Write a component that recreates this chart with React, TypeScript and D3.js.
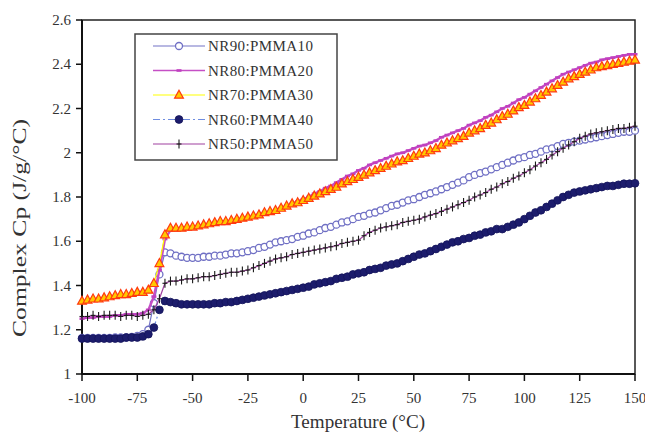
import React from "react";
import * as d3 from "d3";

const temperatures: number[] = Array.from({ length: 101 }, (_, i) => -100 + 2.5 * i);

const nr90: number[] = [
  1.163, 1.163, 1.163, 1.163, 1.163, 1.163, 1.165, 1.165, 1.165, 1.168,
  1.172, 1.18, 1.2, 1.32, 1.45, 1.55, 1.545, 1.535, 1.53, 1.525,
  1.525, 1.525, 1.53, 1.53, 1.535, 1.535, 1.54, 1.545, 1.545, 1.55,
  1.555, 1.56, 1.57, 1.575, 1.585, 1.595, 1.6, 1.605, 1.61, 1.62,
  1.625, 1.635, 1.64, 1.65, 1.66, 1.665, 1.675, 1.685, 1.69, 1.7,
  1.71, 1.715, 1.725, 1.73, 1.74, 1.75, 1.76, 1.765, 1.775, 1.785,
  1.79, 1.8, 1.81, 1.817, 1.825, 1.835, 1.845, 1.855, 1.865, 1.875,
  1.89, 1.9, 1.908, 1.915, 1.925, 1.935, 1.945, 1.955, 1.965, 1.975,
  1.98, 1.99, 1.995, 2.005, 2.015, 2.02, 2.03, 2.04, 2.045, 2.05,
  2.055, 2.06, 2.065, 2.07, 2.075, 2.08, 2.085, 2.09, 2.095, 2.095,
  2.1,
];

const nr80: number[] = [
  1.25, 1.255, 1.255, 1.26, 1.26, 1.26, 1.265, 1.265, 1.27, 1.27,
  1.27, 1.275, 1.29, 1.35, 1.47, 1.61, 1.65, 1.65, 1.655, 1.655,
  1.66, 1.665, 1.67, 1.675, 1.68, 1.685, 1.685, 1.69, 1.695, 1.7,
  1.705, 1.71, 1.72, 1.725, 1.73, 1.74, 1.75, 1.76, 1.77, 1.78,
  1.79, 1.8, 1.815, 1.825, 1.84, 1.85, 1.865, 1.88, 1.895, 1.905,
  1.92, 1.93, 1.945, 1.955, 1.965, 1.975, 1.985, 1.995, 2.0, 2.01,
  2.02, 2.03, 2.035, 2.045, 2.055, 2.07, 2.08, 2.09, 2.1, 2.11,
  2.125, 2.135, 2.145, 2.16, 2.17, 2.185, 2.2, 2.21, 2.225, 2.24,
  2.25, 2.265, 2.28, 2.295, 2.31, 2.325, 2.34, 2.355, 2.365, 2.375,
  2.385, 2.395, 2.405, 2.41, 2.42, 2.425, 2.43, 2.435, 2.44, 2.445,
  2.445,
];

const nr70: number[] = [
  1.33, 1.335, 1.34, 1.34, 1.345, 1.35, 1.355, 1.36, 1.36, 1.365,
  1.37, 1.37, 1.38, 1.41, 1.5, 1.63, 1.66, 1.66, 1.66, 1.665,
  1.665, 1.67, 1.675, 1.68, 1.685, 1.69, 1.69, 1.695, 1.7, 1.705,
  1.71, 1.715, 1.72, 1.73, 1.735, 1.74, 1.75, 1.76, 1.77, 1.775,
  1.785, 1.795, 1.805, 1.815, 1.825, 1.835, 1.845, 1.86, 1.87, 1.88,
  1.89, 1.9, 1.91, 1.92, 1.93, 1.94, 1.95, 1.96, 1.965, 1.975,
  1.985, 1.995, 2.0, 2.01, 2.02, 2.035, 2.045, 2.055, 2.065, 2.075,
  2.09, 2.1, 2.11, 2.125, 2.135, 2.15, 2.165, 2.175, 2.19, 2.205,
  2.215, 2.23, 2.245, 2.26, 2.275, 2.29, 2.305, 2.32, 2.335, 2.345,
  2.355, 2.365, 2.375, 2.385, 2.39, 2.395, 2.4, 2.405, 2.41, 2.415,
  2.42,
];

const nr60: number[] = [
  1.16, 1.16, 1.16, 1.16, 1.16, 1.16, 1.16, 1.16, 1.165, 1.165,
  1.165, 1.17, 1.18, 1.21, 1.29, 1.33, 1.325, 1.32, 1.315, 1.315,
  1.315, 1.315, 1.315, 1.315, 1.32, 1.32, 1.325, 1.325, 1.33, 1.335,
  1.34, 1.345, 1.35, 1.355, 1.36, 1.365, 1.37, 1.375, 1.38, 1.385,
  1.39, 1.395, 1.405, 1.41, 1.415, 1.42, 1.43, 1.435, 1.44, 1.45,
  1.455, 1.46, 1.47, 1.475, 1.48, 1.49, 1.495, 1.5, 1.51, 1.52,
  1.53, 1.54, 1.545, 1.555, 1.565, 1.575, 1.585, 1.595, 1.6, 1.61,
  1.615, 1.625, 1.63, 1.64, 1.645, 1.655, 1.655, 1.665, 1.675, 1.685,
  1.7, 1.715, 1.73, 1.74, 1.755, 1.77, 1.785, 1.8, 1.81, 1.82,
  1.825, 1.83, 1.835, 1.84, 1.845, 1.85, 1.85, 1.855, 1.86, 1.86,
  1.862,
];

const nr50: number[] = [
  1.26, 1.26, 1.265, 1.26, 1.265, 1.265, 1.265, 1.26, 1.265, 1.265,
  1.26, 1.265, 1.27, 1.29, 1.34, 1.41, 1.42, 1.42, 1.425, 1.43,
  1.43, 1.435, 1.44, 1.44, 1.445, 1.45, 1.455, 1.46, 1.46, 1.465,
  1.47, 1.48, 1.49, 1.5, 1.51, 1.52, 1.525, 1.53, 1.54, 1.545,
  1.55, 1.555, 1.56, 1.565, 1.57, 1.575, 1.58, 1.59, 1.595, 1.6,
  1.605, 1.625, 1.64, 1.65, 1.66, 1.665, 1.67, 1.675, 1.685, 1.69,
  1.695, 1.7, 1.71, 1.718, 1.725, 1.735, 1.745, 1.755, 1.765, 1.775,
  1.785, 1.8, 1.809, 1.82, 1.835, 1.845, 1.86, 1.87, 1.885, 1.895,
  1.91, 1.923, 1.94, 1.955, 1.97, 1.99, 2.005, 2.02, 2.035, 2.05,
  2.065, 2.075, 2.085, 2.09, 2.095, 2.1, 2.105, 2.11, 2.11, 2.115,
  2.12,
];

const seriesNames: string[] = [
  "NR90:PMMA10",
  "NR80:PMMA20",
  "NR70:PMMA30",
  "NR60:PMMA40",
  "NR50:PMMA50",
];

const xTicks: number[] = [-100, -75, -50, -25, 0, 25, 50, 75, 100, 125, 150];
const yTicks: number[] = [1, 1.2, 1.4, 1.6, 1.8, 2, 2.2, 2.4, 2.6];

type Marker = "circleOpen" | "dash" | "triangle" | "circleFilled" | "plus";

interface Style {
  line: string;
  dash?: string;
  lineWidth: number;
  marker: Marker;
  fill: string;
  stroke: string;
}

const styles: Style[] = [
  { line: "#7373c6", lineWidth: 1.2, marker: "circleOpen", fill: "#ffffff", stroke: "#6f6fc4" },
  { line: "#c54fc5", lineWidth: 2.4, marker: "dash", fill: "#c040c0", stroke: "#c040c0" },
  { line: "#ffff00", lineWidth: 1.2, marker: "triangle", fill: "#ffc800", stroke: "#ff3a10" },
  { line: "#6f8de0", dash: "7,3,2,3", lineWidth: 1.2, marker: "circleFilled", fill: "#1c1c6c", stroke: "#14145a" },
  { line: "#a040a0", lineWidth: 1.2, marker: "plus", fill: "none", stroke: "#1a1a1a" },
];

const FONT = "'Liberation Serif', 'Times New Roman', serif";

function MarkerShape({ kind, x, y, s }: { kind: Marker; x: number; y: number; s: Style }) {
  switch (kind) {
    case "circleOpen":
      return <circle cx={x} cy={y} r={3.5} fill={s.fill} stroke={s.stroke} strokeWidth={1.3} />;
    case "circleFilled":
      return <circle cx={x} cy={y} r={3.9} fill={s.fill} stroke={s.stroke} strokeWidth={0.8} />;
    case "triangle": {
      const h = 8;
      const p = `${x},${y - h * 0.6} ${x + h * 0.55},${y + h * 0.4} ${x - h * 0.55},${y + h * 0.4}`;
      return <polygon points={p} fill={s.fill} stroke={s.stroke} strokeWidth={1.2} />;
    }
    case "dash":
      return <rect x={x - 2.5} y={y - 1.3} width={5} height={2.6} fill={s.fill} />;
    case "plus":
      return (
        <g stroke={s.stroke} strokeWidth={1.1}>
          <line x1={x} y1={y - 4.5} x2={x} y2={y + 4.5} />
          <line x1={x - 2.5} y1={y} x2={x + 2.5} y2={y} />
        </g>
      );
  }
  return null;
}

export default function App() {
  const W = 645;
  const H = 433;
  const x = d3.scaleLinear().domain([-100, 150]).range([82, 635]);
  const y = d3.scaleLinear().domain([1, 2.6]).range([374, 20]);
  const allSeries = [nr90, nr80, nr70, nr60, nr50];

  const lineGen = d3
    .line<number>()
    .x((_, i) => x(temperatures[i]))
    .y((d) => y(d));

  const legendX = 135;
  const legendY = 34;
  const legendRows = seriesNames.map((_, i) => 46 + i * 24.5);

  return (
    <svg
      width={W}
      height={H}
      style={{ position: "absolute", left: 0, top: 0, background: "#fff" }}
      fontFamily={FONT}
    >
      <rect x={0} y={0} width={W} height={H} fill="#ffffff" />
      {/* plot frame */}
      <rect x={82} y={20} width={553} height={354} fill="none" stroke="#222" strokeWidth={1.5} />
      <line x1={82} y1={20} x2={82} y2={374} stroke="#111" strokeWidth={2} />
      <line x1={82} y1={374} x2={635} y2={374} stroke="#111" strokeWidth={2} />

      {/* y ticks */}
      {yTicks.map((t) => (
        <g key={"y" + t}>
          <line x1={76} x2={82} y1={y(t)} y2={y(t)} stroke="#111" strokeWidth={1.5} />
          <text x={71} y={y(t) + 5} textAnchor="end" fontSize={15} fill="#333">
            {d3.format("")(t)}
          </text>
        </g>
      ))}
      {/* x ticks */}
      {xTicks.map((t) => (
        <g key={"x" + t}>
          <line x1={x(t)} x2={x(t)} y1={374} y2={381} stroke="#111" strokeWidth={1.5} />
          <text x={x(t)} y={403} textAnchor="middle" fontSize={15} fill="#333">
            {t}
          </text>
        </g>
      ))}

      {/* axis titles */}
      <text
        x={358}
        y={428}
        textAnchor="middle"
        fontSize={18}
        fill="#333"
        textLength={134}
        lengthAdjust="spacingAndGlyphs"
      >
        Temperature (°C)
      </text>
      <text
        transform={`translate(26,228) rotate(-90)`}
        textAnchor="middle"
        fontSize={18}
        fill="#333"
        textLength={218}
        lengthAdjust="spacingAndGlyphs"
      >
        Complex Cp (J/g/°C)
      </text>

      {/* series */}
      {allSeries.map((vals, si) => {
        const s = styles[si];
        return (
          <g key={"s" + si}>
            <path
              d={lineGen(vals) || ""}
              fill="none"
              stroke={s.line}
              strokeWidth={s.lineWidth}
              strokeDasharray={s.dash}
            />
            {vals.map((v, i) => (
              <MarkerShape key={i} kind={s.marker} x={x(temperatures[i])} y={y(v)} s={s} />
            ))}
          </g>
        );
      })}

      {/* legend */}
      <rect
        x={legendX}
        y={legendY}
        width={202}
        height={126}
        fill="#ffffff"
        stroke="#444"
        strokeWidth={1.5}
      />
      {seriesNames.map((name, i) => {
        const s = styles[i];
        const ry = legendRows[i];
        return (
          <g key={name}>
            <line
              x1={153}
              x2={205}
              y1={ry}
              y2={ry}
              stroke={s.line}
              strokeWidth={i === 1 ? 1.5 : 1.2}
              strokeDasharray={s.dash}
            />
            <MarkerShape kind={s.marker} x={179} y={ry} s={s} />
            <text
              x={208}
              y={ry + 5}
              fontSize={15}
              fill="#333"
              textLength={105}
              lengthAdjust="spacing"
            >
              {name}
            </text>
          </g>
        );
      })}
    </svg>
  );
}
